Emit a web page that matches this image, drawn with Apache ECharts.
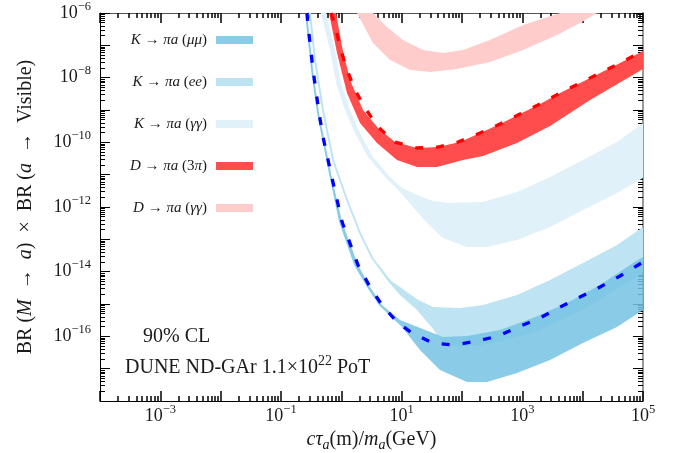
<!DOCTYPE html>
<html>
<head>
<meta charset="utf-8">
<script src="https://cdn.jsdelivr.net/npm/echarts@6/dist/echarts.min.js"></script>
<style>
  html, body { margin: 0; padding: 0; background: #fff; }
  #chart { width: 679px; height: 453px; }
</style>
</head>
<body>
<div id="chart"></div>
<script>
// values: [c*tau/m (m/GeV), BR x BR]
const kGgUpper = [[0.557,1e-6],[0.786,7.18e-8],[0.988,6.84e-9],[1.39,1e-9],[2.04,1.94e-10],[3.35,3.52e-11],[6.41,8.45e-12],[10.1,3.86e-12],[18.0,2.35e-12],[33.1,1.53e-12],[63.3,1.33e-12],[223,1.43e-12],[817,2.90e-12],[2880,8.45e-12],[1.01e4,2.84e-11],[3.71e4,1.02e-10],[1e5,3.96e-10]]
const kGgLower = [[0.46,1e-6],[0.649,7.18e-8],[0.817,6.84e-9],[1.15,1e-9],[1.69,1.94e-10],[2.77,3.52e-11],[5.30,8.45e-12],[9.39,2.90e-12],[15.4,1.0e-12],[26.3,3.20e-13],[48.5,1.10e-13],[121,5.78e-14],[260,5.78e-14],[817,9.51e-14],[2880,2.40e-13],[1.01e4,8.07e-13],[3.71e4,2.71e-12],[1e5,7.87e-12]]
const kEeUpper = [[0.314,1e-6],[0.38,3.52e-8],[0.516,1e-9],[0.757,2.84e-11],[1.29,1.64e-12],[2.12,1.57e-13],[3.40,2.6e-14],[6.65,5.2e-15],[12.3,2.34e-15],[18.0,1.4e-15],[33.1,8.05e-16],[92.7,7.50e-16],[223,9.29e-16],[817,1.90e-15],[2880,5.51e-15],[1.01e4,1.85e-14],[3.71e4,6.67e-14],[1e5,2.40e-13]]
const kEeLower = [[0.291,1e-6],[0.352,3.52e-8],[0.478,1e-9],[0.701,2.84e-11],[1.20,1.64e-12],[1.96,1.57e-13],[3.15,2.6e-14],[6.17,4.6e-15],[9.39,1.9e-15],[18.0,6.5e-16],[33.1,1.7e-16],[48.5,6.0e-17],[92.7,4.67e-17],[223,5.38e-17],[1500,1.26e-16],[1.01e4,6.50e-16],[1e5,9.08e-15]]
const kMuMuUpper = [[0.27,1e-6],[0.34,1.73e-8],[0.427,8.07e-10],[0.70,7.87e-12],[1.03,3.43e-13],[1.89,1.60e-14],[2.99,3.35e-15],[4.72,9.29e-16],[9.39,3.19e-16],[48.5,9.51e-17],[121,1.02e-16],[427,1.57e-16],[1500,3.68e-16],[5510,1.07e-15],[1.94e4,3.86e-15],[6.84e4,1.85e-14],[1e5,2.84e-14]]
const kMuMuLower = [[0.25,1e-6],[0.315,1.73e-8],[0.395,8.07e-10],[0.645,7.87e-12],[0.92,3.43e-13],[1.63,1.60e-14],[2.65,3.35e-15],[4.2,9.29e-16],[7.6,3.19e-16],[9.8,2.1e-16],[20.1,3.77e-17],[43.2,9.08e-18],[121,3.86e-18],[260,3.86e-18],[817,7.33e-18],[2880,1.85e-17],[1.01e4,6.21e-17],[3.71e4,1.94e-16],[1e5,6.50e-16]]
const d3piUpper = [[0.817,1e-6],[1.03,8.87e-8],[1.39,8.47e-9],[2.29,1e-9],[4.05,2.77e-10],[7.76,1.02e-10],[18.0,6.67e-11],[40.0,7.16e-11],[92.7,1.02e-10],[199,1.94e-10],[427,3.69e-10],[916,7.52e-10],[1960,1.53e-9],[4220,3.35e-9],[9040,6.84e-9],[1.94e4,1.39e-8],[4.17e4,2.84e-8],[1e5,6.68e-8]]
const d3piLower = [[0.625,1e-6],[0.848,5.79e-8],[1.24,3.35e-9],[2.04,3.96e-10],[3.90,9.53e-11],[8.37,2.84e-11],[18.0,1.73e-11],[38.6,1.73e-11],[104,2.84e-11],[223,3.78e-11],[817,9.53e-11],[2880,3.20e-10],[1.33e4,2.04e-9],[1e5,1.85e-8]]
const dGgUpper = [[3.35,1e-6],[5.71,3.69e-7],[10.5,1.46e-7],[22.6,7.18e-8],[48.5,5.79e-8],[104,7.18e-8],[291,1.46e-7],[1030,4.26e-7],[4220,1e-6]]
const dGgLower = [[1.82,1e-6],[3.35,1.18e-7],[6.41,3.52e-8],[13.8,1.73e-8],[29.5,1.50e-8],[82.6,1.85e-8],[291,3.05e-8],[1030,7.18e-8],[3760,2.09e-7],[9040,4.91e-7],[1.73e4,1e-6]]
const blueDashed = [[0.27,1e-6],[0.28,4.26e-7],[0.34,1.73e-8],[0.427,8.07e-10],[0.497,1.46e-10],[0.70,7.87e-12],[1.03,3.43e-13],[1.89,1.60e-14],[2.99,3.35e-15],[4.72,9.29e-16],[8.37,2.77e-16],[14.9,1.26e-16],[33.1,6.21e-17],[76.6,5.38e-17],[177,7.16e-17],[395,1.02e-16],[849,1.94e-16],[1960,3.68e-16],[4220,8.05e-16],[9040,1.64e-15],[1.94e4,3.35e-15],[4.17e4,7.33e-15],[1e5,1.99e-14]]
const redDashed = [[0.674,1e-6],[0.786,4.26e-7],[0.951,8.87e-8],[1.24,1.73e-8],[1.69,4.15e-9],[2.47,1.15e-9],[4.05,2.98e-10],[7.76,1.02e-10],[18.0,6.67e-11],[40.0,7.16e-11],[85.9,1.02e-10],[199,1.94e-10],[427,3.69e-10],[916,7.52e-10],[1960,1.53e-9],[4220,3.35e-9],[9040,6.84e-9],[1.94e4,1.39e-8],[4.17e4,2.84e-8],[1e5,6.68e-8]]

const legendNames = ['K → πa (μμ)', 'K → πa (ee)', 'K → πa (γγ)', 'D → πa (3π)', 'D → πa (γγ)']
const legendRich = ['{i|K} → {i|πa} ({i|μμ})', '{i|K} → {i|πa} ({i|ee})', '{i|K} → {i|πa} ({i|γγ})', '{i|D} → {i|πa} (3{i|π})', '{i|D} → {i|πa} ({i|γγ})']
const xLabelExps = [-3, -1, 1, 3, 5]
const yLabelExps = [-16, -14, -12, -10, -8, -6]
const minorSteps = [2, 3, 4, 5, 6, 7, 8, 9]

const SERIF = "'Liberation Serif', 'DejaVu Serif', serif"
const TXT = '#1a1a1a'

function minorTicks(from, to) {
  const out = []
  for (let d = from; d < to; d++) minorSteps.forEach(k => out.push(d + Math.log10(k)))
  return out
}
const supText = e => (e < 0 ? '−' + (-e) : '' + e)
const labelRich = {
  b: { fontFamily: SERIF, fontSize: 18, lineHeight: 26, color: TXT },
  s: { fontFamily: SERIF, fontSize: 12.5, lineHeight: 12, verticalAlign: 'top', color: TXT }
}
const noteRich = {
  b: { fontFamily: SERIF, fontSize: 20, lineHeight: 28, color: TXT },
  s: { fontFamily: SERIF, fontSize: 14, lineHeight: 13, verticalAlign: 'top', color: TXT }
}
function expFormatter(shown) {
  return v => {
    const e = Math.round(Math.log10(v))
    return shown.includes(e) ? '{b|10}{s|' + supText(e) + '}' : ''
  }
}

function band(name, upper, lower, color) {
  const pts = upper.concat(lower.slice().reverse())
  return {
    name, type: 'custom', xAxisIndex: 0, yAxisIndex: 0, clip: true, silent: true,
    itemStyle: { color }, encode: { x: 0, y: 1 }, data: pts, z: 2,
    renderItem(params, api) {
      if (params.dataIndex !== 0) return null
      return { type: 'polygon', shape: { points: pts.map(p => api.coord(p)) }, style: { fill: color } }
    }
  }
}
function dashed(name, data, color) {
  return {
    name, type: 'line', xAxisIndex: 0, yAxisIndex: 0, data, showSymbol: false, silent: true, z: 3,
    lineStyle: { color, width: 3.3, type: [8, 13], cap: 'butt' }
  }
}
// minor ticks (2..9 in each decade) come from a second, invisible value axis in log10 units
function minorAxis(pos, min, max, width) {
  return {
    type: 'value', gridIndex: 1, position: pos, min, max,
    axisLine: { show: false, onZero: false }, axisLabel: { show: false }, splitLine: { show: false },
    axisTick: { show: true, inside: true, length: 5, customValues: minorTicks(min, max), lineStyle: { color: '#000', width } }
  }
}
function majorTick(width) {
  return { show: true, inside: true, length: 10, lineStyle: { color: '#000', width } }
}

const colors = { mumu: 'rgba(117,195,228,0.85)', ee: '#bee3f2', gg: '#e0f1f9', d3pi: '#ff4d4d', dgg: '#ffcccc' }
const legendColors = ['#8acce8', colors.ee, colors.gg, colors.d3pi, colors.dgg]

const gridBox = { left: 100, top: 13, right: 36, bottom: 52, outerBoundsMode: 'none' }
const nameRich = {
  i: { fontFamily: SERIF, fontSize: 20, lineHeight: 24, fontStyle: 'italic', color: TXT },
  r: { fontFamily: SERIF, fontSize: 20, lineHeight: 24, color: TXT },
  sub: { fontFamily: SERIF, fontSize: 14, lineHeight: 13, fontStyle: 'italic', verticalAlign: 'bottom', color: TXT }
}

const chart = echarts.init(document.getElementById('chart'))
chart.setOption({
  animation: false,
  backgroundColor: '#fff',
  grid: [Object.assign({}, gridBox), Object.assign({}, gridBox)],
  legend: {
    orient: 'vertical', align: 'right', right: 426, top: 32, padding: 0,
    itemWidth: 37, itemHeight: 8, itemGap: 26, selectedMode: false,
    formatter: name => legendRich[legendNames.indexOf(name)],
    textStyle: {
      fontFamily: SERIF, fontSize: 15, lineHeight: 16, color: TXT, padding: [0, 4, 0, 0],
      rich: { i: { fontFamily: SERIF, fontSize: 15, lineHeight: 16, fontStyle: 'italic', color: TXT } }
    },
    data: legendNames.map((n, i) => ({ name: n, icon: 'rect', itemStyle: { color: legendColors[i] } }))
  },
  xAxis: [
    {
      type: 'log', gridIndex: 0, position: 'bottom', min: 1e-4, max: 1e5, interval: 1,
      axisLine: { show: true, onZero: false, lineStyle: { color: '#000', width: 1 } },
      axisTick: majorTick(1.5),
      axisLabel: { formatter: expFormatter(xLabelExps), margin: 2, rich: labelRich },
      splitLine: { show: false },
      name: '{i|cτ}{sub|a}{r|(m)/}{i|m}{sub|a}{r|(GeV)}', nameLocation: 'middle', nameGap: 24,
      nameTextStyle: { fontFamily: SERIF, fontSize: 20, color: TXT, rich: nameRich }
    },
    {
      type: 'log', gridIndex: 0, position: 'top', min: 1e-4, max: 1e5, interval: 1,
      axisLine: { show: true, onZero: false, lineStyle: { color: '#555', width: 1 } },
      axisTick: majorTick(1.5),
      axisLabel: { show: false }, splitLine: { show: false }
    },
    minorAxis('bottom', -4, 5, 1.5),
    minorAxis('top', -4, 5, 1.5)
  ],
  yAxis: [
    {
      type: 'log', gridIndex: 0, position: 'left', min: 1e-18, max: 1e-6, interval: 1,
      axisLine: { show: true, onZero: false, lineStyle: { color: '#000', width: 1 } },
      axisTick: majorTick(1),
      axisLabel: { formatter: expFormatter(yLabelExps), margin: 9, rich: labelRich },
      splitLine: { show: false },
      name: '{r|BR (}{i|M}{r|\u2002→\u2002}{i|a}{r|)\u2002×\u2002BR (}{i|a}{r|\u2002→\u2002Visible)}', nameLocation: 'middle', nameGap: 62,
      nameTextStyle: { fontFamily: SERIF, fontSize: 20, color: TXT, rich: nameRich }
    },
    {
      type: 'log', gridIndex: 0, position: 'right', min: 1e-18, max: 1e-6, interval: 1,
      axisLine: { show: true, onZero: false, lineStyle: { color: '#999', width: 2 } },
      axisTick: majorTick(1),
      axisLabel: { show: false }, splitLine: { show: false }
    },
    minorAxis('left', -18, -6, 1),
    minorAxis('right', -18, -6, 1)
  ],
  graphic: [
    { type: 'text', left: 143, top: 327, style: { text: '90% CL', font: '20px ' + SERIF, fill: TXT } },
    {
      type: 'text', left: 125, top: 354,
      style: { text: '{b|DUNE ND-GAr 1.1×10}{s|22}{b| PoT}', rich: noteRich, font: '20px ' + SERIF, fill: TXT }
    }
  ],
  series: [
    band('K → πa (γγ)', kGgUpper, kGgLower, colors.gg),
    band('K → πa (ee)', kEeUpper, kEeLower, colors.ee),
    band('K → πa (μμ)', kMuMuUpper, kMuMuLower, colors.mumu),
    dashed('K combined', blueDashed, '#0000ff'),
    band('D → πa (γγ)', dGgUpper, dGgLower, colors.dgg),
    band('D → πa (3π)', d3piUpper, d3piLower, colors.d3pi),
    dashed('D combined', redDashed, '#ff0000')
  ]
})
</script>
</body>
</html>
